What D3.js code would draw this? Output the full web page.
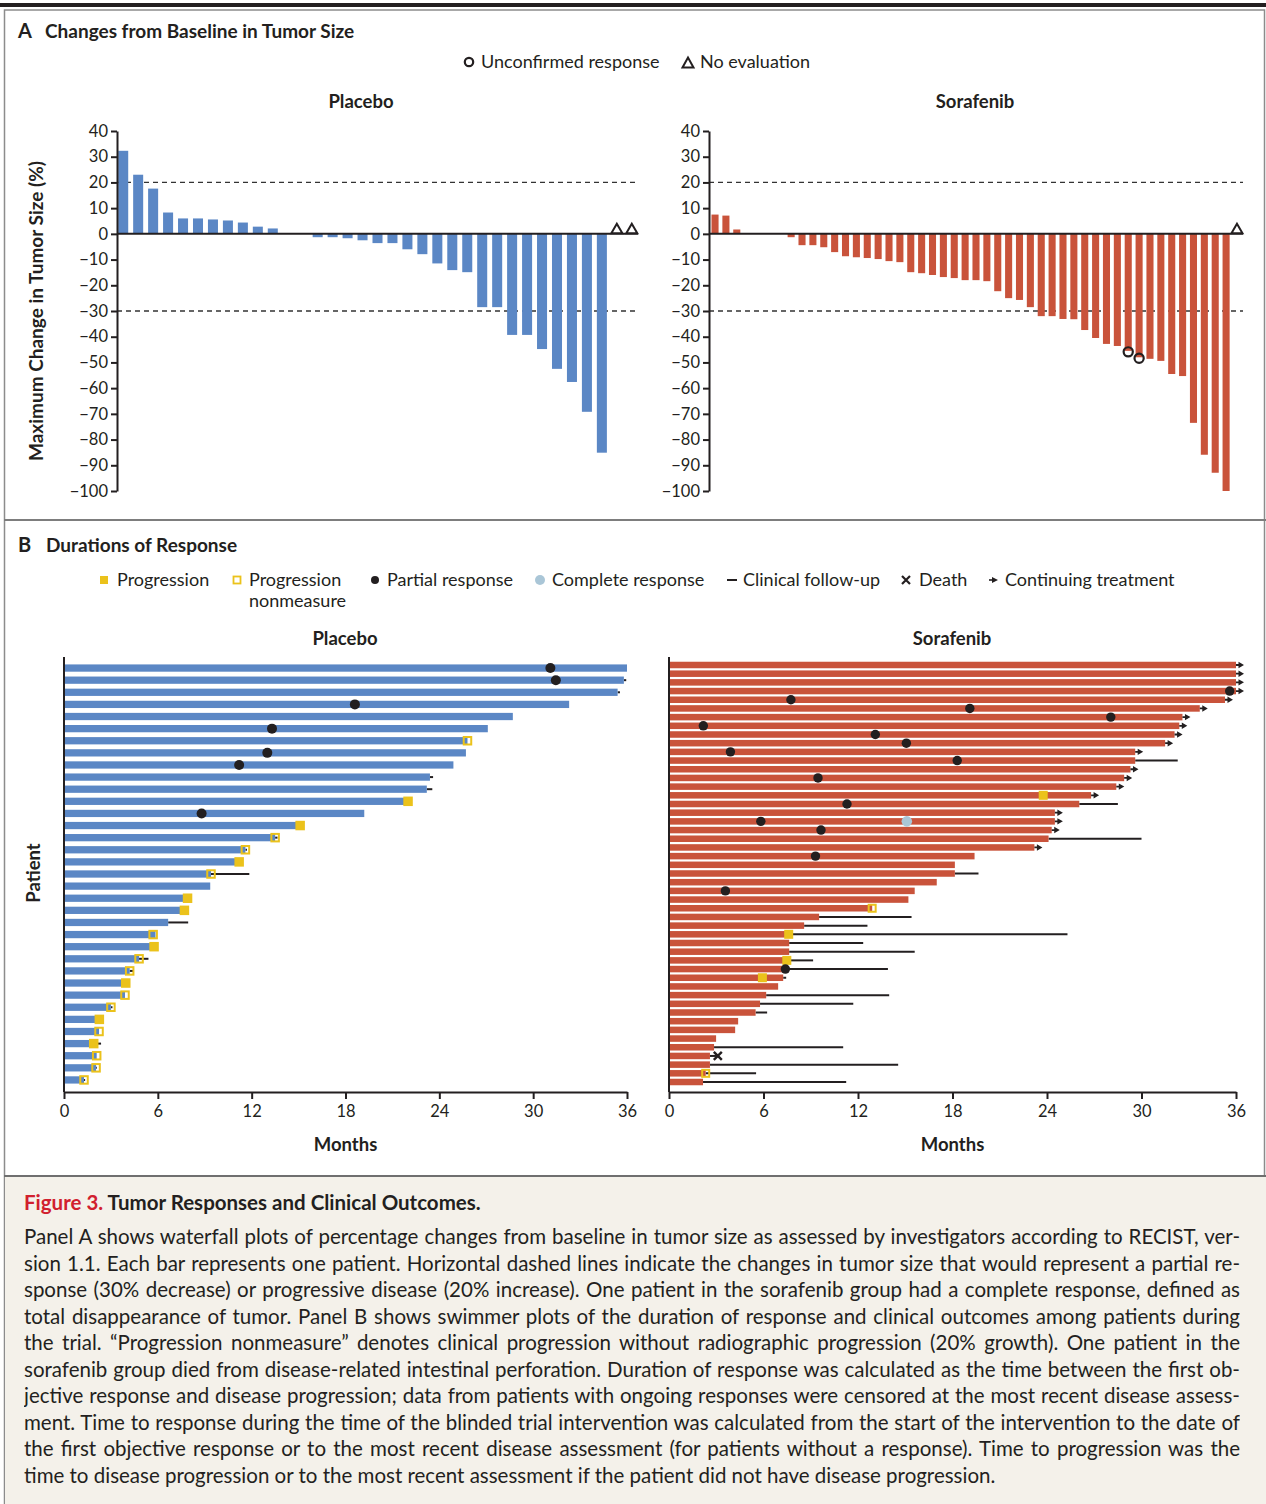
<!DOCTYPE html>
<html>
<head>
<meta charset="utf-8">
<script src="https://cdn.jsdelivr.net/npm/d3@7"></script>
<style>
  body { margin: 0; background: #fff; font-family: Lato, sans-serif; }
  #wrap { position: relative; width: 1266px; height: 1504px; overflow: hidden; }
  #chart { position: absolute; left: 0; top: 0; }
  #caption { position: absolute; left: 24px; top: 1187px; width: 1216px; color: #231f20; font-size: 20.5px; }
  #caption .title { font-weight: bold; font-size: 20.5px; line-height: 30px; margin-bottom: 6px; }
  #caption .title span { color: #d1202e; }
  #caption .line { text-align: justify; text-align-last: justify; line-height: 26.5px; height: 26.5px; overflow: hidden; }
  #caption .line.last { text-align-last: left; }
</style>
</head>
<body>
<div id="wrap">
  <svg id="chart"></svg>
  <div id="caption"></div>
</div>
<script>
// ---------- data ----------
// Panel A: maximum change from baseline (%), one value per patient (null = no evaluation)
const placeboChange = [32.3, 23.0, 17.6, 8.3, 6.0, 6.0, 5.6, 5.2, 4.4, 2.8, 2.1, 0, 0,
  -1.3, -1.3, -1.7, -2.5, -3.6, -3.6, -6.0, -7.9, -11.5, -14.1, -14.9, -28.5, -28.5,
  -39.3, -39.3, -44.8, -52.5, -57.6, -69.2, -85.1, null, null];
const sorafenibChange = [7.5, 7.1, 1.7, 0, 0, 0, 0,
  -1.3, -4.4, -4.4, -5.2, -7.1, -8.7, -9.1, -9.4, -9.8, -10.6, -11.0, -14.9, -15.3, -16.0,
  -16.8, -17.2, -18.0, -18.0, -18.4, -22.3, -25.0, -25.7, -28.5, -32.0, -32.0, -33.1, -33.2,
  -37.4, -40.5, -42.8, -43.6, -45.5, -48.0, -48.6, -49.4, -54.5, -55.3, -73.5, -85.9, -92.9,
  -100, null];
const sorafenibUnconfirmed = [38, 39]; // patient index (0-based) with unconfirmed response
const changeTicks = [40, 30, 20, 10, 0, -10, -20, -30, -40, -50, -60, -70, -80, -90, -100];
const thresholdLines = [20, -30];

// Panel B: months on treatment per patient (row 1 = top)
const placeboOnTx = [36, 35.8, 35.4, 32.3, 28.7, 27.1, 25.8, 25.7, 24.9, 23.4, 23.2, 22.0,
  19.2, 15.0, 13.5, 11.6, 11.1, 9.4, 9.35, 7.9, 7.7, 6.66, 5.85, 5.76, 4.8, 4.2, 3.95, 3.9,
  3.0, 2.26, 2.24, 1.9, 2.09, 2.05, 1.28];
const placeboProgression = [[12, 22.0], [14, 15.1], [17, 11.2], [20, 7.9], [21, 7.7],
  [24, 5.76], [27, 3.95], [30, 2.26], [32, 1.9]];
const placeboNonmeasure = [[7, 25.8], [15, 13.5], [16, 11.6], [18, 9.4], [23, 5.7],
  [25, 4.8], [26, 4.2], [28, 3.9], [29, 3.0], [31, 2.24], [33, 2.09], [34, 2.05], [35, 1.28]];
const placeboPartial = [[1, 31.1], [2, 31.45], [4, 18.6], [6, 13.3], [8, 13.0], [9, 11.2], [13, 8.8]];
const placeboFollowUp = [[2, 35.95], [3, 35.55], [10, 23.6], [11, 23.55], [15, 13.65], [16, 11.7],
  [18, 11.85], [22, 7.94], [25, 5.4], [26, 4.45], [29, 3.1], [32, 2.37], [34, 2.1], [35, 1.35]];

const sorafenibOnTx = [36, 36, 36, 36, 35.3, 33.7, 32.6, 32.4, 32.1, 31.5, 29.6, 29.6, 29.3,
  28.9, 28.4, 26.8, 26.05, 24.5, 24.5, 24.3, 24.1, 23.2, 19.4, 18.15, 18.15, 17.0, 15.6, 15.2,
  12.9, 9.53, 8.58, 7.5, 7.63, 7.63, 7.4, 7.39, 7.25, 6.93, 6.17, 5.78, 5.5, 4.39, 4.2, 2.99,
  2.86, 2.6, 2.6, 2.33, 2.16];
const sorafenibProgression = [[16, 23.76], [32, 7.6], [35, 7.48], [37, 5.93]];
const sorafenibNonmeasure = [[29, 12.9], [48, 2.33]];
const sorafenibPartial = [[4, 35.6], [5, 7.74], [6, 19.1], [7, 28.05], [8, 2.18], [9, 13.1],
  [10, 15.07], [11, 3.9], [12, 18.3], [14, 9.46], [17, 11.3], [19, 5.83], [20, 9.65], [23, 9.3],
  [27, 3.58], [36, 7.39]];
const sorafenibComplete = [[19, 15.1]];
const sorafenibFollowUp = [[12, 32.3], [17, 28.5], [21, 30.0], [25, 19.65], [30, 15.4], [31, 12.6],
  [32, 25.3], [33, 12.33], [34, 15.6], [35, 9.15], [36, 13.9], [37, 7.44], [39, 13.98], [40, 11.7],
  [41, 6.23], [45, 11.06], [46, 3.1], [47, 14.55], [48, 5.53], [49, 11.25]];
const sorafenibDeath = [[46, 3.1]];
const sorafenibContinuing = [1, 2, 3, 4, 5, 6, 7, 8, 9, 10, 11, 13, 14, 15, 16, 18, 19, 20, 22];
const monthTicks = [0, 6, 12, 18, 24, 30, 36];

const captionLines = [
  "Panel A shows waterfall plots of percentage changes from baseline in tumor size as assessed by investigators according to RECIST, ver-",
  "sion 1.1. Each bar represents one patient. Horizontal dashed lines indicate the changes in tumor size that would represent a partial re-",
  "sponse (30% decrease) or progressive disease (20% increase). One patient in the sorafenib group had a complete response, defined as",
  "total disappearance of tumor. Panel B shows swimmer plots of the duration of response and clinical outcomes among patients during",
  "the trial. \u201cProgression nonmeasure\u201d denotes clinical progression without radiographic progression (20% growth). One patient in the",
  "sorafenib group died from disease-related intestinal perforation. Duration of response was calculated as the time between the first ob-",
  "jective response and disease progression; data from patients with ongoing responses were censored at the most recent disease assess-",
  "ment. Time to response during the time of the blinded trial intervention was calculated from the start of the intervention to the date of",
  "the first objective response or to the most recent disease assessment (for patients without a response). Time to progression was the",
  "time to disease progression or to the most recent assessment if the patient did not have disease progression."
];

// ---------- style ----------
const ink = '#231f20';
const blue = '#5b87c5';
const red = '#c9533b';
const yellow = '#ebc21b';
const paleBlue = '#aac6d7';
const font = 'Lato, sans-serif';

const svg = d3.select('#chart').attr('width', 1266).attr('height', 1504);

// frame
svg.append('rect').attr('x', 0).attr('y', 3).attr('width', 1266).attr('height', 4).attr('fill', ink);
svg.append('rect').attr('x', 4.5).attr('y', 10).attr('width', 1260).attr('height', 1500)
  .attr('fill', 'none').attr('stroke', '#8c8c8c').attr('stroke-width', 1.5);
svg.append('line').attr('x1', 4).attr('x2', 1266).attr('y1', 520).attr('y2', 520)
  .attr('stroke', '#7d7d7d').attr('stroke-width', 2);
svg.append('rect').attr('x', 5).attr('y', 1176).attr('width', 1261).attr('height', 330).attr('fill', '#f4f1ea');
svg.append('line').attr('x1', 4).attr('x2', 1266).attr('y1', 1176).attr('y2', 1176)
  .attr('stroke', '#6f6f6f').attr('stroke-width', 2);

function label(txt, x, y, opts = {}) {
  return svg.append('text').attr('x', x).attr('y', y).text(txt)
    .attr('font-family', font).attr('font-size', opts.size || 18)
    .attr('font-weight', opts.bold ? 'bold' : 'normal')
    .attr('text-anchor', opts.anchor || 'start').attr('fill', ink);
}
const fmtMinus = d => d < 0 ? '\u2212' + (-d) : String(d);

// ---------- Panel A ----------
label('A', 18, 38, { size: 20, bold: true });
label('Changes from Baseline in Tumor Size', 45, 38, { size: 19, bold: true });
svg.append('circle').attr('cx', 469).attr('cy', 62).attr('r', 4.2)
  .attr('fill', 'none').attr('stroke', ink).attr('stroke-width', 2.2);
label('Unconfirmed response', 481, 68);
svg.append('path').attr('d', 'M682.5,67.5L688,57.5L693.5,67.5Z')
  .attr('fill', 'none').attr('stroke', ink).attr('stroke-width', 2);
label('No evaluation', 700, 68);
label('Placebo', 361, 108, { size: 18.5, bold: true, anchor: 'middle' });
label('Sorafenib', 975, 108, { size: 18.5, bold: true, anchor: 'middle' });
label('Maximum Change in Tumor Size (%)', 0, 0, { size: 19, bold: true, anchor: 'middle' })
  .attr('transform', 'translate(43,311) rotate(-90)');

const changeY = d3.scaleLinear().domain([-100, 40]).range([491, 131]);

function waterfall(values, x0, x1, color, padIn, padOut, unconfirmed) {
  const x = d3.scaleBand().domain(d3.range(values.length)).range([x0, x1])
    .paddingInner(padIn).paddingOuter(padOut);
  const g = svg.append('g');
  // dashed thresholds
  g.selectAll('.thr').data(thresholdLines).join('line')
    .attr('x1', x0).attr('x2', x1).attr('y1', d => changeY(d)).attr('y2', d => changeY(d))
    .attr('stroke', '#333').attr('stroke-width', 1.3).attr('stroke-dasharray', '5,4');
  g.selectAll('.bar').data(values.map((v, i) => ({ v, i })).filter(d => d.v !== null)).join('rect')
    .attr('x', d => x(d.i)).attr('width', x.bandwidth())
    .attr('y', d => changeY(Math.max(0, d.v)))
    .attr('height', d => Math.abs(changeY(d.v) - changeY(0)))
    .attr('fill', color);
  g.append('line').attr('x1', x0).attr('x2', x1).attr('y1', changeY(0)).attr('y2', changeY(0))
    .attr('stroke', ink).attr('stroke-width', 2);
  // no evaluation
  g.selectAll('.noeval').data(values.map((v, i) => ({ v, i })).filter(d => d.v === null)).join('path')
    .attr('d', d => {
      const cx = x(d.i) + x.bandwidth() / 2, y0 = changeY(0);
      return `M${cx - 5.5},${y0 - 0.5}L${cx},${y0 - 10}L${cx + 5.5},${y0 - 0.5}Z`;
    })
    .attr('fill', '#fff').attr('stroke', ink).attr('stroke-width', 2);
  // unconfirmed response
  g.selectAll('.unconf').data(unconfirmed).join('circle')
    .attr('cx', i => x(i) + x.bandwidth() / 2).attr('cy', i => changeY(values[i]) + 1)
    .attr('r', 4.6).attr('fill', 'none').attr('stroke', ink).attr('stroke-width', 2.2);
  // axis
  const ax = svg.append('g').attr('transform', `translate(${x0},0)`)
    .call(d3.axisLeft(changeY).tickValues(changeTicks).tickSize(6).tickSizeOuter(0).tickFormat(fmtMinus))
    .attr('font-family', font).attr('font-size', 16.5);
  ax.select('.domain').attr('stroke', ink).attr('stroke-width', 2);
  ax.selectAll('.tick line').attr('stroke', ink).attr('stroke-width', 2);
  ax.selectAll('.tick text').attr('fill', ink);
}
waterfall(placeboChange, 117, 638, blue, 0.33, 0.08, []);
waterfall(sorafenibChange, 709, 1243, red, 0.35, 0.23, sorafenibUnconfirmed);

// ---------- Panel B ----------
label('B', 18, 552, { size: 20, bold: true });
label('Durations of Response', 46, 552, { size: 19, bold: true });

// legend
svg.append('rect').attr('x', 100).attr('y', 576).attr('width', 8).attr('height', 8).attr('fill', yellow);
label('Progression', 117, 586);
svg.append('rect').attr('x', 233.5).attr('y', 576.5).attr('width', 7).attr('height', 7)
  .attr('fill', 'none').attr('stroke', yellow).attr('stroke-width', 1.8);
label('Progression', 249, 586);
label('nonmeasure', 249, 607);
svg.append('circle').attr('cx', 375).attr('cy', 580).attr('r', 4).attr('fill', ink);
label('Partial response', 387, 586);
svg.append('circle').attr('cx', 540).attr('cy', 580).attr('r', 5).attr('fill', paleBlue);
label('Complete response', 552, 586);
svg.append('line').attr('x1', 727).attr('x2', 737).attr('y1', 580).attr('y2', 580)
  .attr('stroke', ink).attr('stroke-width', 2);
label('Clinical follow-up', 743, 586);
svg.append('path').attr('d', 'M902,576L910,584M910,576L902,584').attr('stroke', ink).attr('stroke-width', 2.2);
label('Death', 919, 586);
svg.append('path').attr('d', 'M989,580H993').attr('stroke', ink).attr('stroke-width', 1.6);
svg.append('path').attr('d', 'M992,577L998,580L992,583Z').attr('fill', ink);
label('Continuing treatment', 1005, 586);

label('Placebo', 345, 645, { size: 18.5, bold: true, anchor: 'middle' });
label('Sorafenib', 952, 645, { size: 18.5, bold: true, anchor: 'middle' });
label('Patient', 0, 0, { size: 18.5, bold: true, anchor: 'middle' }).attr('transform', 'translate(40,873) rotate(-90)');

function swimmer(cfg) {
  const x = d3.scaleLinear().domain([0, 36]).range([cfg.x0, cfg.x1]);
  const n = cfg.onTx.length;
  const y = d3.scaleBand().domain(d3.range(1, n + 1)).range([cfg.y0, cfg.y1])
    .paddingInner(cfg.padIn).paddingOuter(cfg.padOut);
  const cy = r => y(r) + y.bandwidth() / 2;
  const g = svg.append('g');
  // follow-up lines
  g.selectAll('.fu').data(cfg.followUp).join('line')
    .attr('x1', d => x(cfg.onTx[d[0] - 1])).attr('x2', d => x(d[1]))
    .attr('y1', d => cy(d[0])).attr('y2', d => cy(d[0]))
    .attr('stroke', ink).attr('stroke-width', 2);
  // treatment bars
  g.selectAll('.bar').data(cfg.onTx.map((m, i) => ({ m, r: i + 1 }))).join('rect')
    .attr('x', x(0)).attr('y', d => y(d.r)).attr('width', d => x(d.m) - x(0))
    .attr('height', y.bandwidth()).attr('fill', cfg.color);
  // continuing treatment arrows
  g.selectAll('.arrow').data(cfg.continuing).join('path')
    .attr('d', r => {
      const xe = x(cfg.onTx[r - 1]), yc = cy(r);
      return `M${xe},${yc - 0.9}h3.5v1.8h-3.5Z M${xe + 2.5},${yc - 3.2}L${xe + 8},${yc}L${xe + 2.5},${yc + 3.2}Z`;
    })
    .attr('fill', ink);
  // progression (filled)
  const s = cfg.sq;
  g.selectAll('.prog').data(cfg.progression).join('rect')
    .attr('x', d => x(d[1]) - s / 2).attr('y', d => cy(d[0]) - s / 2)
    .attr('width', s).attr('height', s).attr('fill', yellow);
  // progression nonmeasure (hollow)
  g.selectAll('.nonm').data(cfg.nonmeasure).join('rect')
    .attr('x', d => x(d[1]) - s / 2 + 1).attr('y', d => cy(d[0]) - s / 2 + 1)
    .attr('width', s - 2).attr('height', s - 2)
    .attr('fill', 'none').attr('stroke', yellow).attr('stroke-width', 2);
  // responses
  g.selectAll('.pr').data(cfg.partial).join('circle')
    .attr('cx', d => x(d[1])).attr('cy', d => cy(d[0])).attr('r', cfg.dot).attr('fill', ink);
  g.selectAll('.cr').data(cfg.complete).join('circle')
    .attr('cx', d => x(d[1])).attr('cy', d => cy(d[0])).attr('r', cfg.dot + 0.6).attr('fill', paleBlue);
  // death
  g.selectAll('.death').data(cfg.death).join('path')
    .attr('d', d => {
      const xc = x(d[1]), yc = cy(d[0]);
      return `M${xc - 4},${yc - 4}L${xc + 4},${yc + 4}M${xc + 4},${yc - 4}L${xc - 4},${yc + 4}`;
    })
    .attr('stroke', ink).attr('stroke-width', 2.4);
  // axes
  svg.append('line').attr('x1', x(0)).attr('x2', x(0)).attr('y1', 657).attr('y2', 1092)
    .attr('stroke', ink).attr('stroke-width', 2);
  const ax = svg.append('g').attr('transform', 'translate(0,1092)')
    .call(d3.axisBottom(x).tickValues(monthTicks).tickSize(7).tickSizeOuter(0).tickPadding(6))
    .attr('font-family', font).attr('font-size', 16.5);
  ax.select('.domain').attr('stroke', ink).attr('stroke-width', 2);
  ax.selectAll('.tick line').attr('stroke', ink).attr('stroke-width', 2);
  ax.selectAll('.tick text').attr('fill', ink);
  label('Months', (cfg.x0 + cfg.x1) / 2, 1151, { size: 18.5, bold: true, anchor: 'middle' });
}

swimmer({
  x0: 64, x1: 627, y0: 662, y1: 1086, padIn: 0.4, padOut: 0.2, color: blue, sq: 9.5, dot: 5,
  onTx: placeboOnTx, progression: placeboProgression, nonmeasure: placeboNonmeasure,
  partial: placeboPartial, complete: [], followUp: placeboFollowUp, death: [], continuing: []
});
swimmer({
  x0: 669, x1: 1236, y0: 660, y1: 1087, padIn: 0.25, padOut: 0.2, color: red, sq: 9, dot: 4.7,
  onTx: sorafenibOnTx, progression: sorafenibProgression, nonmeasure: sorafenibNonmeasure,
  partial: sorafenibPartial, complete: sorafenibComplete, followUp: sorafenibFollowUp,
  death: sorafenibDeath, continuing: sorafenibContinuing
});

// ---------- caption ----------
const cap = d3.select('#caption');
cap.append('div').attr('class', 'title')
  .html('<span>Figure 3.</span> Tumor Responses and Clinical Outcomes.');
cap.selectAll('div.line').data(captionLines).join('div')
  .attr('class', (d, i) => i === captionLines.length - 1 ? 'line last' : 'line')
  .text(d => d);
</script>
</body>
</html>
